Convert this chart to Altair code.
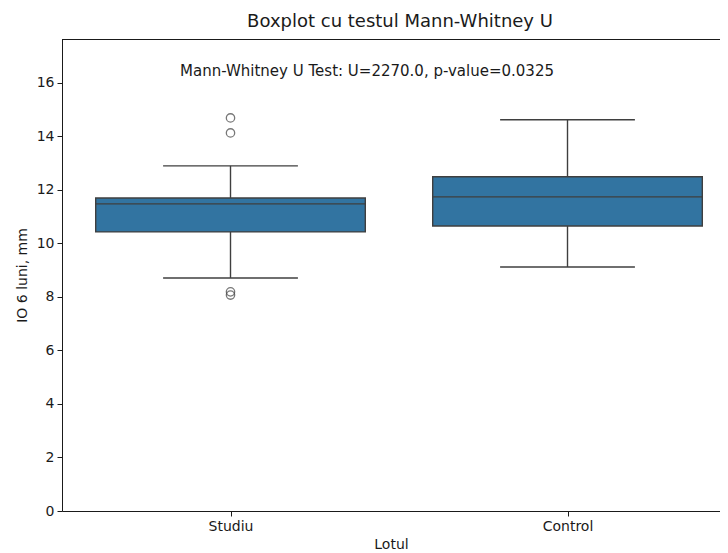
import altair as alt
import pandas as pd

groups = ["Studiu", "Control"]
positions = [0, 1]
whisker_low = [8.71, 9.12]
q1 = [10.43, 10.65]
median = [11.48, 11.74]
q3 = [11.70, 12.49]
whisker_high = [12.90, 14.62]

outlier_group = ["Studiu", "Studiu", "Studiu", "Studiu"]
outlier_pos = [0, 0, 0, 0]
outlier_values = [14.69, 14.13, 8.19, 8.07]

annotation = "Mann-Whitney U Test: U=2270.0, p-value=0.0325"
annotation_x = [0.405]
annotation_y = [16.45]

y_max = 17.64

FONT = "DejaVu Sans"
LINE = "#3f3f3f"
FILL = "#3274a1"
TXT = "#1a1a1a"

stats = pd.DataFrame({
    "group": groups, "pos": positions, "lo": whisker_low, "q1": q1,
    "med": median, "q3": q3, "hi": whisker_high,
})
outliers = pd.DataFrame({"group": outlier_group, "pos": outlier_pos, "value": outlier_values})
ann = pd.DataFrame({"x": annotation_x, "y": annotation_y, "text": [annotation]})

xscale = alt.Scale(domain=[-0.5, 1.4525], nice=False, zero=False)
yscale = alt.Scale(domain=[0, y_max], nice=False, zero=False)

xaxis = alt.Axis(values=[0, 1], labelExpr="datum.value == 0 ? 'Studiu' : 'Control'",
                 title="Lotul", grid=False, labelFontSize=14, titleFontSize=14,
                 labelFont=FONT, titleFont=FONT, labelColor=TXT, titleColor=TXT,
                 domainColor=TXT, tickColor=TXT, tickSize=5, labelPadding=3,
                 titleFontWeight="normal", titlePadding=4)
yaxis = alt.Axis(values=[0, 2, 4, 6, 8, 10, 12, 14, 16], title="IO 6 luni, mm", grid=False,
                 labelFontSize=14, titleFontSize=14, labelFont=FONT, titleFont=FONT,
                 labelColor=TXT, titleColor=TXT, domainColor=TXT, tickColor=TXT,
                 tickSize=5, labelPadding=3, titleFontWeight="normal", titlePadding=7)

base = alt.Chart(stats).transform_calculate(
    bl="datum.pos - 0.4", br="datum.pos + 0.4",
    cl="datum.pos - 0.2", cr="datum.pos + 0.2",
)

whisk_lo = base.mark_rule(color=LINE, strokeWidth=1.4).encode(
    x=alt.X("pos:Q", scale=xscale, axis=xaxis),
    y=alt.Y("lo:Q", scale=yscale, axis=yaxis),
    y2="q1:Q",
)
whisk_hi = base.mark_rule(color=LINE, strokeWidth=1.4).encode(
    x="pos:Q", y="q3:Q", y2="hi:Q")
cap_lo = base.mark_rule(color=LINE, strokeWidth=1.4).encode(
    x="cl:Q", x2="cr:Q", y="lo:Q")
cap_hi = base.mark_rule(color=LINE, strokeWidth=1.4).encode(
    x="cl:Q", x2="cr:Q", y="hi:Q")
box = base.mark_rect(fill=FILL, stroke=LINE, strokeWidth=1.4).encode(
    x="bl:Q", x2="br:Q", y="q1:Q", y2="q3:Q")
med = base.mark_rule(color=LINE, strokeWidth=1.4).encode(
    x="bl:Q", x2="br:Q", y="med:Q")

pts = alt.Chart(outliers).mark_point(shape="circle", filled=False, color=LINE,
                                     size=70, strokeWidth=1.3).encode(
    x="pos:Q", y="value:Q")

txt = alt.Chart(ann).mark_text(font=FONT, fontSize=15, color=TXT,
                               align="center", baseline="middle").encode(
    x="x:Q", y="y:Q", text="text:N")

top_frame = alt.Chart().mark_rule(color=TXT, strokeWidth=1, yOffset=0.5).encode(
    y=alt.datum(y_max))

chart = alt.layer(whisk_lo, whisk_hi, cap_lo, cap_hi, box, med, pts, txt, top_frame).properties(
    width=658, height=472,
    title=alt.TitleParams("Boxplot cu testul Mann-Whitney U", font=FONT, fontSize=18,
                          fontWeight="normal", color=TXT, anchor="middle", dx=9, offset=8),
    autosize=alt.AutoSizeParams(type="none"),
    padding={"left": 54, "top": 31, "right": 0, "bottom": 42},
).configure_view(stroke=None).configure(background="white")

chart.save("out.html", embed_options={"renderer": "svg", "actions": False})
